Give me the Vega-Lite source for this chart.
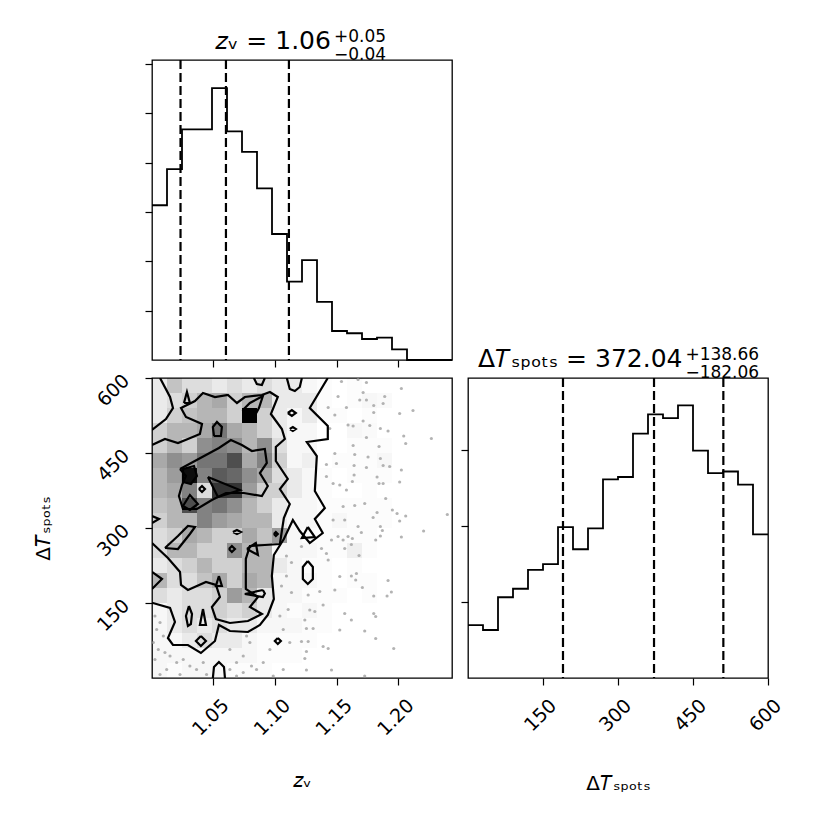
{
"$schema": "https://vega.github.io/schema/vega-lite/v6.json",
"background": "white",
"padding": {"left": 33, "top": 27, "right": 5, "bottom": 5},
"columns": 2,
"spacing": {"row": 18, "column": 16},
"bounds": "flush",
"config": {
  "view": {"stroke": "black", "strokeWidth": 1.3},
  "font": "DejaVu Sans",
  "axis": {"domain": false, "grid": false, "ticks": true, "tickColor": "black", "tickSize": 7, "tickWidth": 1.2, "labelColor": "black", "labelFont": "DejaVu Sans", "labelFontSize": 19, "titleFont": "DejaVu Sans", "titleFontSize": 20, "titleFontWeight": "normal", "titleColor": "black", "labelOverlap": false, "labelFlush": false, "labelBound": false},
  "title": {"font": "DejaVu Sans", "fontSize": 25, "fontWeight": "normal", "color": "black", "subtitleFont": "DejaVu Sans", "subtitleFontSize": 17, "subtitleColor": "black", "subtitlePadding": -25, "subtitleLineHeight": 18, "anchor": "start", "frame": "group", "offset": -5}
},
"datasets": {
  "h1": [{"z":1.0004,"n":156.8},{"z":1.01255,"n":193.5},{"z":1.0247,"n":233.8},{"z":1.03685,"n":233.8},{"z":1.049,"n":275.6},{"z":1.06115,"n":231.7},{"z":1.0733,"n":210.8},{"z":1.08545,"n":174},{"z":1.0976,"n":127.7},{"z":1.10975,"n":79.4},{"z":1.1219,"n":101.3},{"z":1.13405,"n":58.8},{"z":1.1462,"n":29.4},{"z":1.15835,"n":27.1},{"z":1.1705,"n":21.3},{"z":1.18265,"n":22.7},{"z":1.1948,"n":10.8},{"z":1.20695,"n":0},{"z":1.2191,"n":0},{"z":1.23125,"n":0},{"z":1.2434,"n":0}],
  "h2": [{"t":0,"n":17.4},{"t":30,"n":15.8},{"t":60,"n":26.6},{"t":90,"n":29.4},{"t":120,"n":35.6},{"t":150,"n":37.5},{"t":180,"n":49.7},{"t":210,"n":42.4},{"t":240,"n":49.3},{"t":270,"n":65.4},{"t":300,"n":66.2},{"t":330,"n":80.5},{"t":360,"n":86.8},{"t":390,"n":85.6},{"t":420,"n":89.8},{"t":450,"n":74.9},{"t":480,"n":67.5},{"t":510,"n":68},{"t":540,"n":63.7},{"t":570,"n":47.3},{"t":600,"n":47.3}],
  "cells": [
{"c":0,"r":0,"d":0.1},{"c":1,"r":0,"d":0.25},{"c":2,"r":0,"d":0.15},{"c":3,"r":0,"d":0.15},{"c":4,"r":0,"d":0.1},{"c":5,"r":0,"d":0.15},{"c":6,"r":0,"d":0.1},{"c":7,"r":0,"d":0.15},{"c":8,"r":0,"d":0.1},{"c":9,"r":0,"d":0.1},{"c":10,"r":0,"d":0.05},{"c":11,"r":0,"d":0.03},{"c":12,"r":0,"d":0.02},{"c":13,"r":0,"d":0.03},{"c":14,"r":0,"d":0.02},
{"c":0,"r":1,"d":0.1},{"c":1,"r":1,"d":0.15},{"c":2,"r":1,"d":0.2},{"c":3,"r":1,"d":0.3},{"c":4,"r":1,"d":0.35},{"c":5,"r":1,"d":0.2},{"c":6,"r":1,"d":0.3},{"c":7,"r":1,"d":0.3},{"c":8,"r":1,"d":0.1},{"c":9,"r":1,"d":0.1},{"c":10,"r":1,"d":0.1},{"c":11,"r":1,"d":0.03},{"c":12,"r":1,"d":0.02},{"c":13,"r":1,"d":0.03},{"c":14,"r":1,"d":0.05},{"c":15,"r":1,"d":0.04},{"c":16,"r":1,"d":0.02},
{"c":0,"r":2,"d":0.1},{"c":1,"r":2,"d":0.2},{"c":2,"r":2,"d":0.25},{"c":3,"r":2,"d":0.3},{"c":4,"r":2,"d":0.3},{"c":5,"r":2,"d":0.2},{"c":6,"r":2,"d":1.0},{"c":7,"r":2,"d":0.2},{"c":8,"r":2,"d":0.1},{"c":9,"r":2,"d":0.05},{"c":10,"r":2,"d":0.1},{"c":11,"r":2,"d":0.03},{"c":12,"r":2,"d":0.03},{"c":13,"r":2,"d":0.02},{"c":14,"r":2,"d":0.03},{"c":15,"r":2,"d":0.02},{"c":16,"r":2,"d":0.02},
{"c":0,"r":3,"d":0.2},{"c":1,"r":3,"d":0.3},{"c":2,"r":3,"d":0.3},{"c":3,"r":3,"d":0.35},{"c":4,"r":3,"d":0.55},{"c":5,"r":3,"d":0.35},{"c":6,"r":3,"d":0.3},{"c":7,"r":3,"d":0.2},{"c":8,"r":3,"d":0.1},{"c":9,"r":3,"d":0.05},{"c":10,"r":3,"d":0.05},{"c":11,"r":3,"d":0.02},{"c":12,"r":3,"d":0.02},{"c":13,"r":3,"d":0.05},{"c":14,"r":3,"d":0.04},{"c":15,"r":3,"d":0.02},{"c":16,"r":3,"d":0.02},{"c":17,"r":3,"d":0.02},
{"c":0,"r":4,"d":0.2},{"c":1,"r":4,"d":0.3},{"c":2,"r":4,"d":0.2},{"c":3,"r":4,"d":0.45},{"c":4,"r":4,"d":0.5},{"c":5,"r":4,"d":0.45},{"c":6,"r":4,"d":0.3},{"c":7,"r":4,"d":0.45},{"c":8,"r":4,"d":0.15},{"c":9,"r":4,"d":0.05},{"c":10,"r":4,"d":0.05},{"c":11,"r":4,"d":0.02},{"c":12,"r":4,"d":0.02},{"c":13,"r":4,"d":0.03},{"c":14,"r":4,"d":0.03},{"c":15,"r":4,"d":0.03},
{"c":0,"r":5,"d":0.35},{"c":1,"r":5,"d":0.45},{"c":2,"r":5,"d":0.4},{"c":3,"r":5,"d":0.55},{"c":4,"r":5,"d":0.55},{"c":5,"r":5,"d":0.7},{"c":6,"r":5,"d":0.35},{"c":7,"r":5,"d":0.5},{"c":8,"r":5,"d":0.2},{"c":9,"r":5,"d":0.05},{"c":10,"r":5,"d":0.08},{"c":11,"r":5,"d":0.02},{"c":12,"r":5,"d":0.03},{"c":13,"r":5,"d":0.03},{"c":14,"r":5,"d":0.03},{"c":15,"r":5,"d":0.05},{"c":16,"r":5,"d":0.02},
{"c":0,"r":6,"d":0.3},{"c":1,"r":6,"d":0.4},{"c":2,"r":6,"d":0.95},{"c":3,"r":6,"d":0.5},{"c":4,"r":6,"d":0.65},{"c":5,"r":6,"d":0.6},{"c":6,"r":6,"d":0.45},{"c":7,"r":6,"d":0.35},{"c":8,"r":6,"d":0.15},{"c":9,"r":6,"d":0.1},{"c":10,"r":6,"d":0.05},{"c":11,"r":6,"d":0.03},{"c":12,"r":6,"d":0.02},{"c":13,"r":6,"d":0.03},{"c":14,"r":6,"d":0.03},{"c":15,"r":6,"d":0.03},
{"c":0,"r":7,"d":0.3},{"c":1,"r":7,"d":0.35},{"c":2,"r":7,"d":0.5},{"c":3,"r":7,"d":0.15},{"c":4,"r":7,"d":0.8},{"c":5,"r":7,"d":0.8},{"c":6,"r":7,"d":0.4},{"c":7,"r":7,"d":0.2},{"c":8,"r":7,"d":0.2},{"c":9,"r":7,"d":0.1},{"c":10,"r":7,"d":0.05},{"c":11,"r":7,"d":0.03},{"c":12,"r":7,"d":0.02},{"c":13,"r":7,"d":0.02},{"c":14,"r":7,"d":0.03},{"c":15,"r":7,"d":0.02},
{"c":0,"r":8,"d":0.25},{"c":1,"r":8,"d":0.3},{"c":2,"r":8,"d":0.7},{"c":3,"r":8,"d":0.5},{"c":4,"r":8,"d":0.55},{"c":5,"r":8,"d":0.45},{"c":6,"r":8,"d":0.3},{"c":7,"r":8,"d":0.2},{"c":8,"r":8,"d":0.1},{"c":9,"r":8,"d":0.05},{"c":10,"r":8,"d":0.05},{"c":11,"r":8,"d":0.03},{"c":12,"r":8,"d":0.03},{"c":13,"r":8,"d":0.03},{"c":14,"r":8,"d":0.03},{"c":15,"r":8,"d":0.03},{"c":16,"r":8,"d":0.02},
{"c":0,"r":9,"d":0.2},{"c":1,"r":9,"d":0.3},{"c":2,"r":9,"d":0.3},{"c":3,"r":9,"d":0.5},{"c":4,"r":9,"d":0.4},{"c":5,"r":9,"d":0.35},{"c":6,"r":9,"d":0.3},{"c":7,"r":9,"d":0.3},{"c":8,"r":9,"d":0.1},{"c":9,"r":9,"d":0.05},{"c":10,"r":9,"d":0.05},{"c":11,"r":9,"d":0.03},{"c":12,"r":9,"d":0.05},{"c":13,"r":9,"d":0.03},{"c":14,"r":9,"d":0.03},{"c":15,"r":9,"d":0.03},{"c":16,"r":9,"d":0.02},{"c":17,"r":9,"d":0.02},{"c":18,"r":9,"d":0.02},
{"c":0,"r":10,"d":0.15},{"c":1,"r":10,"d":0.2},{"c":2,"r":10,"d":0.35},{"c":3,"r":10,"d":0.3},{"c":4,"r":10,"d":0.2},{"c":5,"r":10,"d":0.2},{"c":6,"r":10,"d":0.35},{"c":7,"r":10,"d":0.25},{"c":8,"r":10,"d":0.4},{"c":9,"r":10,"d":0.05},{"c":10,"r":10,"d":0.03},{"c":11,"r":10,"d":0.03},{"c":12,"r":10,"d":0.03},{"c":13,"r":10,"d":0.03},{"c":14,"r":10,"d":0.03},{"c":15,"r":10,"d":0.02},
{"c":0,"r":11,"d":0.15},{"c":1,"r":11,"d":0.3},{"c":2,"r":11,"d":0.3},{"c":3,"r":11,"d":0.2},{"c":4,"r":11,"d":0.2},{"c":5,"r":11,"d":0.45},{"c":6,"r":11,"d":0.3},{"c":7,"r":11,"d":0.3},{"c":8,"r":11,"d":0.05},{"c":9,"r":11,"d":0.05},{"c":10,"r":11,"d":0.05},{"c":11,"r":11,"d":0.03},{"c":12,"r":11,"d":0.03},{"c":13,"r":11,"d":0.08},{"c":14,"r":11,"d":0.03},{"c":15,"r":11,"d":0.02},
{"c":0,"r":12,"d":0.1},{"c":1,"r":12,"d":0.15},{"c":2,"r":12,"d":0.2},{"c":3,"r":12,"d":0.3},{"c":4,"r":12,"d":0.2},{"c":5,"r":12,"d":0.2},{"c":6,"r":12,"d":0.3},{"c":7,"r":12,"d":0.3},{"c":8,"r":12,"d":0.1},{"c":9,"r":12,"d":0.05},{"c":10,"r":12,"d":0.03},{"c":11,"r":12,"d":0.03},{"c":12,"r":12,"d":0.02},{"c":13,"r":12,"d":0.03},{"c":14,"r":12,"d":0.02},
{"c":0,"r":13,"d":0.3},{"c":1,"r":13,"d":0.15},{"c":2,"r":13,"d":0.15},{"c":3,"r":13,"d":0.25},{"c":4,"r":13,"d":0.35},{"c":5,"r":13,"d":0.2},{"c":6,"r":13,"d":0.35},{"c":7,"r":13,"d":0.3},{"c":8,"r":13,"d":0.05},{"c":9,"r":13,"d":0.05},{"c":10,"r":13,"d":0.05},{"c":11,"r":13,"d":0.03},{"c":12,"r":13,"d":0.02},{"c":13,"r":13,"d":0.03},{"c":14,"r":13,"d":0.03},
{"c":0,"r":14,"d":0.15},{"c":1,"r":14,"d":0.1},{"c":2,"r":14,"d":0.15},{"c":3,"r":14,"d":0.15},{"c":4,"r":14,"d":0.2},{"c":5,"r":14,"d":0.4},{"c":6,"r":14,"d":0.3},{"c":7,"r":14,"d":0.1},{"c":8,"r":14,"d":0.05},{"c":9,"r":14,"d":0.05},{"c":10,"r":14,"d":0.03},{"c":11,"r":14,"d":0.03},{"c":12,"r":14,"d":0.03},{"c":13,"r":14,"d":0.02},{"c":14,"r":14,"d":0.03},
{"c":0,"r":15,"d":0.05},{"c":1,"r":15,"d":0.1},{"c":2,"r":15,"d":0.15},{"c":3,"r":15,"d":0.15},{"c":4,"r":15,"d":0.2},{"c":5,"r":15,"d":0.15},{"c":6,"r":15,"d":0.2},{"c":7,"r":15,"d":0.1},{"c":8,"r":15,"d":0.05},{"c":9,"r":15,"d":0.03},{"c":10,"r":15,"d":0.05},{"c":11,"r":15,"d":0.03},{"c":12,"r":15,"d":0.02},{"c":13,"r":15,"d":0.02},{"c":14,"r":15,"d":0.02},
{"c":0,"r":16,"d":0.05},{"c":1,"r":16,"d":0.1},{"c":2,"r":16,"d":0.15},{"c":3,"r":16,"d":0.1},{"c":4,"r":16,"d":0.15},{"c":5,"r":16,"d":0.1},{"c":6,"r":16,"d":0.1},{"c":7,"r":16,"d":0.05},{"c":8,"r":16,"d":0.05},{"c":9,"r":16,"d":0.05},{"c":10,"r":16,"d":0.03},{"c":11,"r":16,"d":0.03},{"c":12,"r":16,"d":0.02},{"c":13,"r":16,"d":0.02},
{"c":0,"r":17,"d":0.05},{"c":1,"r":17,"d":0.05},{"c":2,"r":17,"d":0.1},{"c":3,"r":17,"d":0.15},{"c":4,"r":17,"d":0.1},{"c":5,"r":17,"d":0.1},{"c":6,"r":17,"d":0.05},{"c":7,"r":17,"d":0.03},{"c":8,"r":17,"d":0.03},{"c":9,"r":17,"d":0.03},{"c":10,"r":17,"d":0.03},{"c":11,"r":17,"d":0.02},{"c":12,"r":17,"d":0.02},{"c":13,"r":17,"d":0.02},
{"c":0,"r":18,"d":0.05},{"c":1,"r":18,"d":0.05},{"c":2,"r":18,"d":0.05},{"c":3,"r":18,"d":0.05},{"c":4,"r":18,"d":0.05},{"c":5,"r":18,"d":0.05},{"c":6,"r":18,"d":0.05},{"c":7,"r":18,"d":0.03},{"c":8,"r":18,"d":0.03},{"c":9,"r":18,"d":0.03},{"c":10,"r":18,"d":0.02},{"c":11,"r":18,"d":0.02},
{"c":0,"r":19,"d":0.05},{"c":1,"r":19,"d":0.03},{"c":2,"r":19,"d":0.05},{"c":3,"r":19,"d":0.05},{"c":4,"r":19,"d":0.05},{"c":5,"r":19,"d":0.03},{"c":6,"r":19,"d":0.03},{"c":7,"r":19,"d":0.03},{"c":8,"r":19,"d":0.02},{"c":9,"r":19,"d":0.02}
  ],
  "pts": [
{"z":1.1673,"t":597},{"z":1.1741,"t":591},{"z":1.2024,"t":579},{"z":1.1714,"t":571},{"z":1.1687,"t":556},{"z":1.1741,"t":556},{"z":1.1889,"t":563},{"z":1.18,"t":545},{"z":1.1876,"t":549},{"z":1.18,"t":531},{"z":1.201,"t":529},{"z":1.2118,"t":535},{"z":1.1714,"t":514},{"z":1.1633,"t":504},{"z":1.1768,"t":505},{"z":1.1854,"t":499},{"z":1.1916,"t":494},{"z":1.2043,"t":484},{"z":1.2267,"t":479},{"z":1.1741,"t":481},{"z":1.2059,"t":469},{"z":1.1633,"t":465},{"z":1.1843,"t":463},{"z":1.1646,"t":447},{"z":1.1754,"t":442},{"z":1.1854,"t":439},{"z":1.1641,"t":425},{"z":1.1741,"t":421},{"z":1.1876,"t":425},{"z":1.1929,"t":423},{"z":1.2024,"t":416},{"z":1.1641,"t":406},{"z":1.1627,"t":393},{"z":1.1827,"t":402},{"z":1.1843,"t":389},{"z":1.1876,"t":389},{"z":1.201,"t":392},{"z":1.1897,"t":359},{"z":1.1646,"t":345},{"z":1.1727,"t":349},{"z":1.1951,"t":336},{"z":1.1827,"t":331},{"z":1.1989,"t":329},{"z":1.2059,"t":324},{"z":1.1795,"t":321},{"z":1.201,"t":314},{"z":1.2396,"t":327},{"z":1.1673,"t":303},{"z":1.1854,"t":303},{"z":1.187,"t":295},{"z":1.17,"t":291},{"z":1.2204,"t":294},{"z":1.1627,"t":279},{"z":1.1854,"t":284},{"z":1.1816,"t":276},{"z":1.2024,"t":282},{"z":1.1619,"t":267},{"z":1.1681,"t":245},{"z":1.166,"t":209},{"z":1.1619,"t":204},{"z":1.1654,"t":196},{"z":1.1916,"t":195},{"z":1.1708,"t":181},{"z":1.18,"t":164},{"z":1.1908,"t":164},{"z":1.1943,"t":172},{"z":1.1619,"t":116},{"z":1.18,"t":129},{"z":1.1816,"t":123},{"z":1.1727,"t":94},{"z":1.1816,"t":79},{"z":1.1962,"t":59},{"z":1.1727,"t":4},
{"z":1.1539,"t":593},{"z":1.1511,"t":563},{"z":1.1431,"t":541},{"z":1.1579,"t":541},{"z":1.1485,"t":526},{"z":1.1592,"t":506},{"z":1.1444,"t":499},{"z":1.1485,"t":449},{"z":1.1417,"t":427},{"z":1.1498,"t":429},{"z":1.1417,"t":403},{"z":1.1471,"t":389},{"z":1.1525,"t":386},{"z":1.1579,"t":376},{"z":1.1552,"t":343},{"z":1.1471,"t":316},{"z":1.1565,"t":316},{"z":1.1511,"t":283},{"z":1.1458,"t":276},{"z":1.1552,"t":276},{"z":1.1592,"t":283},{"z":1.1377,"t":259},{"z":1.1215,"t":263},{"z":1.1417,"t":249},{"z":1.1565,"t":259},{"z":1.1431,"t":236},{"z":1.1525,"t":203},{"z":1.1485,"t":176},{"z":1.1269,"t":166},{"z":1.1363,"t":173},{"z":1.139,"t":146},{"z":1.1323,"t":133},{"z":1.1282,"t":136},{"z":1.1565,"t":129},{"z":1.1242,"t":116},{"z":1.1255,"t":99},{"z":1.1309,"t":99},{"z":1.1525,"t":96},{"z":1.1215,"t":73},{"z":1.1269,"t":73},{"z":1.139,"t":63},{"z":1.1431,"t":59},{"z":1.1255,"t":53},{"z":1.1242,"t":39},{"z":1.1255,"t":16},{"z":1.1458,"t":16},
{"z":1.1093,"t":244},{"z":1.1134,"t":231},{"z":1.1093,"t":204},{"z":1.1053,"t":184},{"z":1.1134,"t":171},{"z":1.1067,"t":97},{"z":1.112,"t":71},{"z":1.0959,"t":57},{"z":1.0905,"t":31},{"z":1.0851,"t":17},{"z":1.1067,"t":17},{"z":1.104,"t":124},{"z":1.1107,"t":137},{"z":1.0986,"t":4},
{"z":1.0028,"t":124},{"z":1.0069,"t":111},{"z":1.0042,"t":97},{"z":1.0096,"t":84},{"z":1.0015,"t":71},{"z":1.0055,"t":57},{"z":1.0109,"t":51},{"z":1.0028,"t":37},{"z":1.015,"t":44},{"z":1.0204,"t":31},{"z":1.0257,"t":37},{"z":1.0311,"t":24},{"z":1.0365,"t":17},{"z":1.0419,"t":31},{"z":1.0123,"t":17},{"z":1.0069,"t":7},{"z":1.0231,"t":7},{"z":1.0446,"t":7},{"z":1.0635,"t":17},{"z":1.0689,"t":31},{"z":1.0743,"t":44},{"z":1.0797,"t":71},{"z":1.077,"t":84},{"z":1.0635,"t":57},{"z":1.0689,"t":4},{"z":1.0743,"t":11},{"z":1.081,"t":24}
  ],
  "cont": [
{"id":"A1","o":0,"z":1.0069,"t":600},{"id":"A1","o":1,"z":1.015,"t":562},{"id":"A1","o":2,"z":1.0174,"t":540},{"id":"A1","o":3,"z":1.0117,"t":518},{"id":"A1","o":4,"z":1.0004,"t":496},
{"id":"A2","o":0,"z":1.1428,"t":600},{"id":"A2","o":1,"z":1.1282,"t":540},{"id":"A2","o":2,"z":1.1428,"t":504},{"id":"A2","o":3,"z":1.1428,"t":478},{"id":"A2","o":4,"z":1.1258,"t":472},{"id":"A2","o":5,"z":1.1339,"t":444},{"id":"A2","o":6,"z":1.1323,"t":374},{"id":"A2","o":7,"z":1.1404,"t":340},{"id":"A2","o":8,"z":1.1323,"t":318},{"id":"A2","o":9,"z":1.1387,"t":290},{"id":"A2","o":10,"z":1.1282,"t":270},{"id":"A2","o":11,"z":1.1201,"t":294},{"id":"A2","o":12,"z":1.1145,"t":316},{"id":"A2","o":13,"z":1.1072,"t":278},{"id":"A2","o":14,"z":1.0991,"t":246},{"id":"A2","o":15,"z":1.0975,"t":204},{"id":"A2","o":16,"z":1.0991,"t":158},{"id":"A2","o":17,"z":1.0942,"t":126},{"id":"A2","o":18,"z":1.0878,"t":106},{"id":"A2","o":19,"z":1.0781,"t":92},{"id":"A2","o":20,"z":1.0635,"t":94},{"id":"A2","o":21,"z":1.0546,"t":106},{"id":"A2","o":22,"z":1.0514,"t":74},{"id":"A2","o":23,"z":1.04,"t":50},{"id":"A2","o":24,"z":1.0295,"t":66},{"id":"A2","o":25,"z":1.0174,"t":66},{"id":"A2","o":26,"z":1.0133,"t":80},{"id":"A2","o":27,"z":1.019,"t":112},{"id":"A2","o":28,"z":1.015,"t":140},{"id":"A2","o":29,"z":1.0012,"t":150},{"id":"A2","o":30,"z":1.0004,"t":150},
{"id":"La","o":0,"z":1.0004,"t":212},{"id":"La","o":1,"z":1.0085,"t":198},{"id":"La","o":2,"z":1.0004,"t":178},
{"id":"Lb","o":0,"z":1.0004,"t":324},{"id":"Lb","o":1,"z":1.0061,"t":318},{"id":"Lb","o":2,"z":1.0004,"t":310},
{"id":"Ld","o":0,"z":1.04,"t":84},{"id":"Ld","o":1,"z":1.0441,"t":74},{"id":"Ld","o":2,"z":1.04,"t":64},{"id":"Ld","o":3,"z":1.036,"t":74},{"id":"Ld","o":4,"z":1.04,"t":84},
{"id":"Le","o":0,"z":1.0497,"t":0},{"id":"Le","o":1,"z":1.0506,"t":22},{"id":"Le","o":2,"z":1.0546,"t":32},{"id":"Le","o":3,"z":1.0587,"t":22},{"id":"Le","o":4,"z":1.0595,"t":0},
{"id":"Lf","o":0,"z":1.1266,"t":234},{"id":"Lf","o":1,"z":1.1307,"t":222},{"id":"Lf","o":2,"z":1.1307,"t":198},{"id":"Lf","o":3,"z":1.1266,"t":188},{"id":"Lf","o":4,"z":1.1226,"t":198},{"id":"Lf","o":5,"z":1.1226,"t":222},{"id":"Lf","o":6,"z":1.1266,"t":234},
{"id":"Lg","o":0,"z":1.1023,"t":80},{"id":"Lg","o":1,"z":1.1048,"t":74},{"id":"Lg","o":2,"z":1.1023,"t":68},{"id":"Lg","o":3,"z":1.0999,"t":74},{"id":"Lg","o":4,"z":1.1023,"t":80},
{"id":"Lh","o":0,"z":1.1104,"t":530},{"id":"Lh","o":1,"z":1.1137,"t":536},{"id":"Lh","o":2,"z":1.1169,"t":530},{"id":"Lh","o":3,"z":1.1137,"t":524},{"id":"Lh","o":4,"z":1.1104,"t":530},
{"id":"Li","o":0,"z":1.112,"t":498},{"id":"Li","o":1,"z":1.1145,"t":502},{"id":"Li","o":2,"z":1.1169,"t":498},{"id":"Li","o":3,"z":1.1145,"t":494},{"id":"Li","o":4,"z":1.112,"t":498},
{"id":"Lj","o":0,"z":1.1266,"t":302},{"id":"Lj","o":1,"z":1.1323,"t":282},{"id":"Lj","o":2,"z":1.1218,"t":280},{"id":"Lj","o":3,"z":1.1266,"t":302},
{"id":"Lk","o":0,"z":1.1096,"t":600},{"id":"Lk","o":1,"z":1.112,"t":578},{"id":"Lk","o":2,"z":1.1161,"t":574},{"id":"Lk","o":3,"z":1.1201,"t":582},{"id":"Lk","o":4,"z":1.1218,"t":600},
{"id":"Ll","o":0,"z":1.0829,"t":600},{"id":"Ll","o":1,"z":1.0853,"t":588},{"id":"Ll","o":2,"z":1.0894,"t":586},{"id":"Ll","o":3,"z":1.0918,"t":600},
{"id":"Lm","o":0,"z":1.0263,"t":550},{"id":"Lm","o":1,"z":1.0287,"t":572},{"id":"Lm","o":2,"z":1.0311,"t":550},{"id":"Lm","o":3,"z":1.0263,"t":550},
{"id":"B","o":0,"z":1.0004,"t":466},{"id":"B","o":1,"z":1.0109,"t":478},{"id":"B","o":2,"z":1.0214,"t":470},{"id":"B","o":3,"z":1.0295,"t":478},{"id":"B","o":4,"z":1.0392,"t":488},{"id":"B","o":5,"z":1.0409,"t":508},{"id":"B","o":6,"z":1.0279,"t":522},{"id":"B","o":7,"z":1.0239,"t":540},{"id":"B","o":8,"z":1.0352,"t":554},{"id":"B","o":9,"z":1.0417,"t":570},{"id":"B","o":10,"z":1.0514,"t":562},{"id":"B","o":11,"z":1.0619,"t":566},{"id":"B","o":12,"z":1.0692,"t":550},{"id":"B","o":13,"z":1.0756,"t":562},{"id":"B","o":14,"z":1.0894,"t":566},{"id":"B","o":15,"z":1.0959,"t":572},{"id":"B","o":16,"z":1.1023,"t":562},{"id":"B","o":17,"z":1.0967,"t":528},{"id":"B","o":18,"z":1.1056,"t":498},{"id":"B","o":19,"z":1.108,"t":478},{"id":"B","o":20,"z":1.1007,"t":462},{"id":"B","o":21,"z":1.1007,"t":434},{"id":"B","o":22,"z":1.1104,"t":398},{"id":"B","o":23,"z":1.104,"t":378},{"id":"B","o":24,"z":1.112,"t":348},{"id":"B","o":25,"z":1.1072,"t":320},{"id":"B","o":26,"z":1.104,"t":268},{"id":"B","o":27,"z":1.0918,"t":266},{"id":"B","o":28,"z":1.0797,"t":264},{"id":"B","o":29,"z":1.0764,"t":238},{"id":"B","o":30,"z":1.0764,"t":218},{"id":"B","o":31,"z":1.0764,"t":178},{"id":"B","o":32,"z":1.0862,"t":162},{"id":"B","o":33,"z":1.0797,"t":142},{"id":"B","o":34,"z":1.0894,"t":128},{"id":"B","o":35,"z":1.0781,"t":114},{"id":"B","o":36,"z":1.0635,"t":110},{"id":"B","o":37,"z":1.0522,"t":118},{"id":"B","o":38,"z":1.0489,"t":142},{"id":"B","o":39,"z":1.0554,"t":162},{"id":"B","o":40,"z":1.0522,"t":186},{"id":"B","o":41,"z":1.0441,"t":192},{"id":"B","o":42,"z":1.0295,"t":176},{"id":"B","o":43,"z":1.0239,"t":186},{"id":"B","o":44,"z":1.0231,"t":212},{"id":"B","o":45,"z":1.0133,"t":240},{"id":"B","o":46,"z":1.0004,"t":270},
{"id":"C1","o":0,"z":1.0231,"t":418},{"id":"C1","o":1,"z":1.0336,"t":432},{"id":"C1","o":2,"z":1.0441,"t":446},{"id":"C1","o":3,"z":1.0546,"t":460},{"id":"C1","o":4,"z":1.0643,"t":476},{"id":"C1","o":5,"z":1.0732,"t":466},{"id":"C1","o":6,"z":1.0813,"t":454},{"id":"C1","o":7,"z":1.0918,"t":458},{"id":"C1","o":8,"z":1.0934,"t":430},{"id":"C1","o":9,"z":1.0878,"t":410},{"id":"C1","o":10,"z":1.0942,"t":384},{"id":"C1","o":11,"z":1.0894,"t":364},{"id":"C1","o":12,"z":1.0748,"t":370},{"id":"C1","o":13,"z":1.0603,"t":370},{"id":"C1","o":14,"z":1.0489,"t":356},{"id":"C1","o":15,"z":1.0368,"t":338},{"id":"C1","o":16,"z":1.0255,"t":338},{"id":"C1","o":17,"z":1.0222,"t":364},{"id":"C1","o":18,"z":1.0247,"t":386},{"id":"C1","o":19,"z":1.0279,"t":404},{"id":"C1","o":20,"z":1.0231,"t":418},
{"id":"C2","o":0,"z":1.0506,"t":484},{"id":"C2","o":1,"z":1.0497,"t":502},{"id":"C2","o":2,"z":1.053,"t":512},{"id":"C2","o":3,"z":1.057,"t":502},{"id":"C2","o":4,"z":1.0562,"t":484},{"id":"C2","o":5,"z":1.0506,"t":484},
{"id":"D1","o":0,"z":1.074,"t":536},{"id":"D1","o":1,"z":1.0797,"t":550},{"id":"D1","o":2,"z":1.0902,"t":564},{"id":"D1","o":3,"z":1.087,"t":540},{"id":"D1","o":4,"z":1.0813,"t":514},{"id":"D1","o":5,"z":1.0756,"t":518},{"id":"D1","o":6,"z":1.074,"t":536},
{"id":"D2","o":0,"z":1.0255,"t":418},{"id":"D2","o":1,"z":1.0344,"t":424},{"id":"D2","o":2,"z":1.0368,"t":404},{"id":"D2","o":3,"z":1.0319,"t":388},{"id":"D2","o":4,"z":1.0255,"t":392},{"id":"D2","o":5,"z":1.0255,"t":418},
{"id":"D3","o":0,"z":1.0457,"t":402},{"id":"D3","o":1,"z":1.0716,"t":376},{"id":"D3","o":2,"z":1.0538,"t":362},{"id":"D3","o":3,"z":1.0457,"t":402},
{"id":"D4","o":0,"z":1.0255,"t":344},{"id":"D4","o":1,"z":1.0311,"t":366},{"id":"D4","o":2,"z":1.0376,"t":348},{"id":"D4","o":3,"z":1.0311,"t":336},{"id":"D4","o":4,"z":1.0255,"t":344},
{"id":"H","o":0,"z":1.0384,"t":378},{"id":"H","o":1,"z":1.0409,"t":384},{"id":"H","o":2,"z":1.0433,"t":378},{"id":"H","o":3,"z":1.0409,"t":372},{"id":"H","o":4,"z":1.0384,"t":378},
{"id":"E1","o":0,"z":1.0627,"t":258},{"id":"E1","o":1,"z":1.0651,"t":264},{"id":"E1","o":2,"z":1.0676,"t":258},{"id":"E1","o":3,"z":1.0651,"t":252},{"id":"E1","o":4,"z":1.0627,"t":258},
{"id":"E2","o":0,"z":1.0546,"t":204},{"id":"E2","o":1,"z":1.057,"t":184},{"id":"E2","o":2,"z":1.0522,"t":184},{"id":"E2","o":3,"z":1.0546,"t":204},
{"id":"E3","o":0,"z":1.0303,"t":144},{"id":"E3","o":1,"z":1.0328,"t":128},{"id":"E3","o":2,"z":1.0319,"t":108},{"id":"E3","o":3,"z":1.0295,"t":104},{"id":"E3","o":4,"z":1.0279,"t":124},{"id":"E3","o":5,"z":1.0303,"t":144},
{"id":"E4","o":0,"z":1.0417,"t":138},{"id":"E4","o":1,"z":1.0441,"t":106},{"id":"E4","o":2,"z":1.0392,"t":106},{"id":"E4","o":3,"z":1.0417,"t":138},
{"id":"E5","o":0,"z":1.0773,"t":258},{"id":"E5","o":1,"z":1.0845,"t":270},{"id":"E5","o":2,"z":1.0862,"t":246},{"id":"E5","o":3,"z":1.0773,"t":258},
{"id":"E6","o":0,"z":1.0902,"t":176},{"id":"E6","o":1,"z":1.0756,"t":168},{"id":"E6","o":2,"z":1.0902,"t":162},{"id":"E6","o":3,"z":1.0918,"t":169},{"id":"E6","o":4,"z":1.0902,"t":176},
{"id":"E7","o":0,"z":1.0659,"t":292},{"id":"E7","o":1,"z":1.0692,"t":296},{"id":"E7","o":2,"z":1.0724,"t":292},{"id":"E7","o":3,"z":1.0692,"t":288},{"id":"E7","o":4,"z":1.0659,"t":292},
{"id":"E8","o":0,"z":1.0991,"t":288},{"id":"E8","o":1,"z":1.1007,"t":292},{"id":"E8","o":2,"z":1.1023,"t":288},{"id":"E8","o":3,"z":1.1007,"t":284},{"id":"E8","o":4,"z":1.0991,"t":288},
{"id":"E9","o":0,"z":1.0109,"t":260},{"id":"E9","o":1,"z":1.0214,"t":258},{"id":"E9","o":2,"z":1.0311,"t":288},{"id":"E9","o":3,"z":1.0352,"t":302},{"id":"E9","o":4,"z":1.0295,"t":304},{"id":"E9","o":5,"z":1.0214,"t":284},{"id":"E9","o":6,"z":1.0109,"t":260}
  ]
},
"concat": [
  {
    "width": 300, "height": 300,
    "title": {"text": "𝑧ᵥ = 1.06", "subtitle": ["\u200b\u2003\u2003\u2003\u2003\u2003\u2003\u2003+0.05", "\u200b\u2003\u2003\u2003\u2003\u2003\u2003\u2003\u22120.04"], "dx": 63},
    "layer": [
      {"data": {"name": "h1"}, "mark": {"type": "line", "interpolate": "step-after", "color": "black", "strokeWidth": 1.8},
       "encoding": {
         "x": {"field": "z", "type": "quantitative", "scale": {"domain": [1.0004, 1.2434], "nice": false, "zero": false}, "axis": {"values": [1.05, 1.1, 1.15, 1.2], "labels": false, "title": null}},
         "y": {"field": "n", "type": "quantitative", "scale": {"domain": [0, 304], "nice": false}, "axis": {"values": [50, 100, 150, 200, 250, 300], "labels": false, "title": null}}}},
      {"data": {"values": [{"q": 1.0235}, {"q": 1.0603}, {"q": 1.1113}]}, "mark": {"type": "rule", "color": "black", "strokeWidth": 2.2, "strokeDash": [9, 4]},
       "encoding": {"x": {"field": "q", "type": "quantitative"}}}
    ]
  },
  {
    "width": 300, "height": 300, "view": {"stroke": null},
    "data": {"values": []}, "mark": "point", "encoding": {}
  },
  {
    "width": 300, "height": 300,
    "resolve": {"scale": {"x": "independent", "y": "independent"}},
    "layer": [
      {"data": {"name": "cells"}, "mark": {"type": "rect", "color": "black"},
       "encoding": {
         "x": {"field": "c", "type": "ordinal", "scale": {"domain": [0,1,2,3,4,5,6,7,8,9,10,11,12,13,14,15,16,17,18,19], "paddingInner": 0, "paddingOuter": 0}, "axis": null},
         "y": {"field": "r", "type": "ordinal", "scale": {"domain": [0,1,2,3,4,5,6,7,8,9,10,11,12,13,14,15,16,17,18,19], "paddingInner": 0, "paddingOuter": 0}, "axis": null},
         "opacity": {"field": "d", "type": "quantitative", "scale": {"domain": [0.02, 1], "range": [0, 1], "clamp": true}, "legend": null}}},
      {"layer": [
        {"data": {"name": "pts"}, "mark": {"type": "circle", "size": 10, "color": "#999999", "opacity": 0.75},
         "encoding": {
           "x": {"field": "z", "type": "quantitative", "scale": {"domain": [1.0004, 1.2434], "nice": false, "zero": false},
                 "axis": {"values": [1.05, 1.1, 1.15, 1.2], "format": ".2f", "labelAngle": -45, "labelAlign": "center", "labelBaseline": "middle", "labelPadding": 32, "labelOffset": -3, "title": "𝑧ᵥ", "titlePadding": 31}},
           "y": {"field": "t", "type": "quantitative", "scale": {"domain": [0, 600], "nice": false},
                 "axis": {"values": [150, 300, 450, 600], "format": "d", "labelAngle": -45, "labelAlign": "center", "labelBaseline": "middle", "labelPadding": 32, "labelOffset": 12, "title": "Δ𝑇ₛₚₒₜₛ", "titlePadding": 40}}}},
        {"data": {"name": "cont"}, "mark": {"type": "line", "color": "black", "strokeWidth": 2.2, "clip": true},
         "encoding": {
           "x": {"field": "z", "type": "quantitative"},
           "y": {"field": "t", "type": "quantitative"},
           "detail": {"field": "id"},
           "order": {"field": "o", "type": "quantitative"}}}
      ]}
    ]
  },
  {
    "width": 300, "height": 300,
    "title": {"text": "Δ𝑇ₛₚₒₜₛ = 372.04", "subtitle": ["\u200b\u2003\u2003\u2003\u2003\u2003\u2003\u2003\u2003\u2003\u2003\u2003\u2003\u2009+138.66", "\u200b\u2003\u2003\u2003\u2003\u2003\u2003\u2003\u2003\u2003\u2003\u2003\u2003\u2009\u2212182.06"], "dx": 10},
    "layer": [
      {"data": {"name": "h2"}, "mark": {"type": "line", "interpolate": "step-after", "color": "black", "strokeWidth": 1.8},
       "encoding": {
         "x": {"field": "t", "type": "quantitative", "scale": {"domain": [0, 600], "nice": false},
               "axis": {"values": [150, 300, 450, 600], "format": "d", "labelAngle": -45, "labelAlign": "center", "labelBaseline": "middle", "labelPadding": 30, "labelOffset": -3, "title": "Δ𝑇ₛₚₒₜₛ", "titlePadding": 39}},
         "y": {"field": "n", "type": "quantitative", "scale": {"domain": [0, 98.8], "nice": false}, "axis": {"values": [25, 50, 75], "labels": false, "title": null}}}},
      {"data": {"values": [{"q": 189.98}, {"q": 372.04}, {"q": 510.7}]}, "mark": {"type": "rule", "color": "black", "strokeWidth": 2.2, "strokeDash": [9, 4]},
       "encoding": {"x": {"field": "q", "type": "quantitative"}}}
    ]
  }
]
}
